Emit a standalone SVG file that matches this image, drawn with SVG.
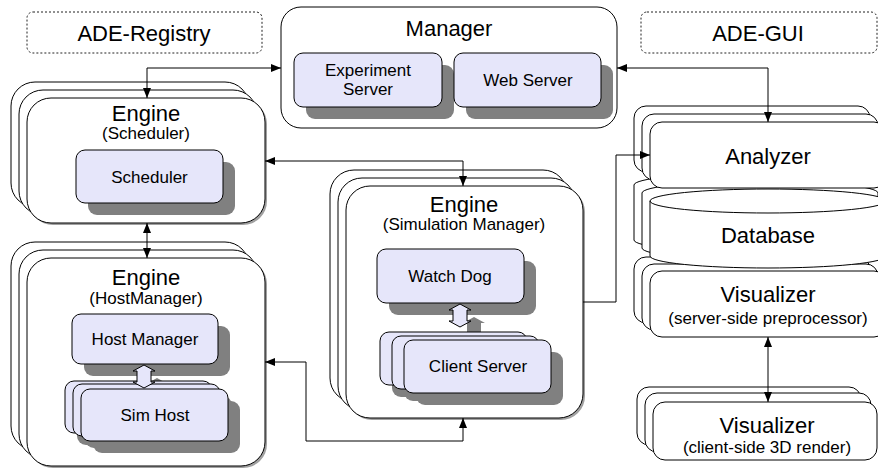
<svg xmlns="http://www.w3.org/2000/svg" width="878" height="470" viewBox="0 0 878 470">
<style>
.t22{font-family:"Liberation Sans",Arial,sans-serif;font-size:22px;fill:#000;text-anchor:middle}
.t17{font-family:"Liberation Sans",Arial,sans-serif;font-size:17px;fill:#000;text-anchor:middle}
.wb{fill:#fff;stroke:#000;stroke-width:1}
.box{fill:#e6e6fa;stroke:#000;stroke-width:1}
.sh{fill:#808080}
.sh2{fill:#a0a0a0}
.dash{fill:#fff;stroke:#222;stroke-width:1;stroke-dasharray:2,2}
.conn{fill:none;stroke:#000;stroke-width:1}
</style>
<defs>
<marker id="ah" viewBox="0 0 10 10" refX="10" refY="5" markerWidth="10" markerHeight="10" markerUnits="userSpaceOnUse" orient="auto-start-reverse">
<path d="M0,1 L10,5 L0,9 Z" fill="#000"/>
</marker>
</defs>
<rect width="878" height="470" fill="#fff"/>

<g id="ade-registry">
<rect class="dash" x="27" y="12" width="235" height="41" rx="6"/>
<text class="t22" x="144" y="41">ADE-Registry</text>
</g>

<g id="ade-gui">
<rect class="dash" x="641" y="12" width="236" height="41" rx="6"/>
<text class="t22" x="758" y="41">ADE-GUI</text>
</g>

<g id="manager">
<rect class="wb" x="281" y="7" width="336" height="121" rx="20"/>
<text class="t22" x="449" y="36">Manager</text>
<rect class="sh" x="306" y="65" width="148" height="54" rx="9"/>
<rect class="box" x="294" y="53" width="148" height="54" rx="9"/>
<text class="t17" x="368" y="76">Experiment</text>
<text class="t17" x="368" y="95">Server</text>
<rect class="sh" x="466" y="65" width="147" height="54" rx="9"/>
<rect class="box" x="454" y="53" width="147" height="54" rx="9"/>
<text class="t17" x="528" y="86">Web Server</text>
</g>

<g id="engine-scheduler">
<rect class="wb" x="11" y="82" width="238" height="125" rx="24"/>
<rect class="wb" x="19" y="90" width="238" height="125" rx="24"/>
<rect class="sh2" x="29" y="100" width="238" height="125" rx="24"/>
<rect class="wb" x="27" y="98" width="238" height="125" rx="24"/>
<text class="t22" x="146" y="121">Engine</text>
<text class="t17" x="146" y="139">(Scheduler)</text>
<rect class="sh" x="88" y="162" width="147" height="53" rx="9"/>
<rect class="box" x="76" y="150" width="147" height="53" rx="9"/>
<text class="t17" x="149.5" y="183">Scheduler</text>
</g>

<g id="engine-hostmanager">
<rect class="wb" x="11" y="242" width="238" height="208" rx="24"/>
<rect class="wb" x="19" y="250" width="238" height="208" rx="24"/>
<rect class="sh2" x="29" y="260" width="238" height="208" rx="24"/>
<rect class="wb" x="27" y="258" width="238" height="208" rx="24"/>
<text class="t22" x="146" y="285">Engine</text>
<text class="t17" x="146" y="304">(HostManager)</text>
<rect class="sh" x="84" y="326" width="146" height="50" rx="9"/>
<rect class="box" x="72" y="314" width="146" height="50" rx="9"/>
<text class="t17" x="145" y="345">Host Manager</text>
<polygon class="sh" points="157,378 168,384 164,384 164,395 168,395 157,401 146,395 150,395 150,384 146,384"/>
<rect class="sh" x="77" y="393" width="147" height="52" rx="9"/>
<rect class="sh" x="85" y="396" width="147" height="52" rx="9"/>
<rect class="sh" x="93" y="401" width="147" height="52" rx="9"/>
<rect class="box" x="65" y="381" width="147" height="52" rx="9"/>
<rect class="box" x="73" y="384" width="147" height="52" rx="9"/>
<rect class="box" x="81" y="389" width="147" height="52" rx="9"/>
<text class="t17" x="155" y="421">Sim Host</text>
<polygon class="box" points="144,365 155,371 151,371 151,382 155,382 144,388 133,382 137,382 137,371 133,371"/>
</g>

<g id="engine-simulation-manager">
<rect class="wb" x="330" y="170" width="237" height="232" rx="24"/>
<rect class="wb" x="338" y="178" width="237" height="232" rx="24"/>
<rect class="sh2" x="348" y="188" width="237" height="232" rx="24"/>
<rect class="wb" x="346" y="186" width="237" height="232" rx="24"/>
<text class="t22" x="464" y="212">Engine</text>
<text class="t17" x="464" y="230">(Simulation Manager)</text>
<rect class="sh" x="389" y="261" width="147" height="54" rx="9"/>
<rect class="box" x="377" y="249" width="147" height="54" rx="9"/>
<text class="t17" x="450" y="282">Watch Dog</text>
<polygon class="sh" points="474,317 485,323 481,323 481,334 485,334 474,340 463,334 467,334 467,323 463,323"/>
<rect class="sh" x="392" y="344" width="147" height="53" rx="9"/>
<rect class="sh" x="404" y="348" width="147" height="53" rx="9"/>
<rect class="sh" x="416" y="352" width="147" height="53" rx="9"/>
<rect class="box" x="380" y="332" width="147" height="53" rx="9"/>
<rect class="box" x="392" y="336" width="147" height="53" rx="9"/>
<rect class="box" x="404" y="340" width="147" height="53" rx="9"/>
<text class="t17" x="478" y="372">Client Server</text>
<polygon class="box" points="460,304 471,310 467,310 467,321 471,321 460,327 449,321 453,321 453,310 449,310"/>
</g>

<g id="visualizer-server">
<rect class="wb" x="634" y="257" width="236" height="66" rx="12"/>
<rect class="wb" x="642" y="264" width="236" height="66" rx="12"/>
<rect class="wb" x="650" y="271" width="236" height="66" rx="12"/>
<text class="t22" x="768" y="302">Visualizer</text>
<text class="t17" x="768" y="324">(server-side preprocessor)</text>
</g>

<g id="database">
<path class="wb" d="M634,185 A118,12 0 0,1 870,185 V240 A118,12 0 0,1 634,240 Z"/>
<path class="wb" d="M642,193 A118,12 0 0,1 878,193 V248 A118,12 0 0,1 642,248 Z"/>
<path class="wb" d="M650,201 A118,12 0 0,1 886,201 V256 A118,12 0 0,1 650,256 Z"/>
<path class="conn" d="M650,201 A118,12 0 0,0 886,201"/>
<text class="t22" x="768" y="243">Database</text>
</g>

<g id="analyzer">
<rect class="wb" x="634" y="106" width="236" height="66" rx="12"/>
<rect class="wb" x="642" y="114" width="236" height="66" rx="12"/>
<rect class="wb" x="650" y="122" width="236" height="66" rx="12"/>
<text class="t22" x="768" y="164">Analyzer</text>
</g>

<g id="visualizer-client">
<rect class="wb" x="637" y="387" width="224" height="58" rx="12"/>
<rect class="wb" x="645" y="393" width="226" height="59" rx="12"/>
<rect class="wb" x="653" y="402" width="224" height="58" rx="12"/>
<text class="t22" x="767" y="433">Visualizer</text>
<text class="t17" x="767" y="453">(client-side 3D render)</text>
</g>

<g id="connectors">
<path class="conn" d="M281,68 H147 V98" marker-start="url(#ah)" marker-end="url(#ah)"/>
<path class="conn" d="M265,161 H463 V186" marker-start="url(#ah)" marker-end="url(#ah)"/>
<path class="conn" d="M147,223 V258" marker-start="url(#ah)" marker-end="url(#ah)"/>
<path class="conn" d="M265,362 H306 V441 H463 V418" marker-start="url(#ah)" marker-end="url(#ah)"/>
<path class="conn" d="M583,302 H616 V155 H650" marker-end="url(#ah)"/>
<path class="conn" d="M617,68 H768 V122" marker-start="url(#ah)" marker-end="url(#ah)"/>
<path class="conn" d="M768,337 V402" marker-start="url(#ah)" marker-end="url(#ah)"/>
</g>
</svg>
